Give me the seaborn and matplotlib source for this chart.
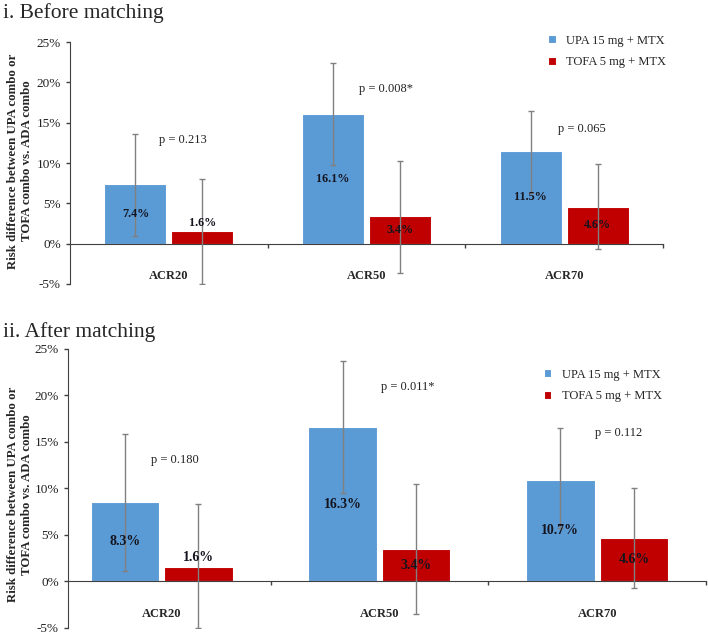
import numpy as np
import pandas as pd
import matplotlib.pyplot as plt
import seaborn as sns
from matplotlib.ticker import FuncFormatter

metrics = ["ACR20", "ACR50", "ACR70"]
groups = ["UPA 15 mg + MTX", "TOFA 5 mg + MTX"]
colors = {"UPA 15 mg + MTX": "#5B9BD5", "TOFA 5 mg + MTX": "#C00000"}

# i. before matching (risk difference, %)
before_upa = [7.4, 16.1, 11.5]
before_tofa = [1.6, 3.4, 4.6]
before_upa_ci = [(1.0, 13.6), (9.8, 22.4), (6.3, 16.5)]
before_tofa_ci = [(-5.0, 8.0), (-3.6, 10.3), (-0.7, 9.9)]
before_p = ["p = 0.213", "p = 0.008*", "p = 0.065"]

# ii. after matching (bar heights as drawn, labels as printed)
after_upa = [8.5, 16.6, 10.9]
after_tofa = [1.6, 3.5, 4.7]
after_upa_lab = ["8.3%", "16.3%", "10.7%"]
after_tofa_lab = ["1.6%", "3.4%", "4.6%"]
after_upa_ci = [(1.1, 15.9), (9.5, 23.7), (5.7, 16.5)]
after_tofa_ci = [(-5.0, 8.3), (-3.5, 10.5), (-0.7, 10.1)]
after_p = ["p = 0.180", "p = 0.011*", "p = 0.112"]

ylabel = "Risk difference between UPA combo or\nTOFA combo vs. ADA combo"

sns.set_style("white")
plt.rcParams["font.family"] = ["Liberation Serif", "DejaVu Serif"]
dark = "#404040"


def panel(ax, upa, tofa, upa_lab, tofa_lab, upa_ci, tofa_ci, pvals, p_pos, lab_size):
    df = pd.DataFrame({
        "metric": metrics * 2,
        "group": [groups[0]] * 3 + [groups[1]] * 3,
        "value": upa + tofa,
    })
    sns.barplot(data=df, x="metric", y="value", hue="group", hue_order=groups,
                palette=colors, saturation=1, width=0.675, gap=0.07,
                edgecolor="white", linewidth=0.8, errorbar=None, ax=ax)

    for cont, ci, labs in zip(ax.containers, [upa_ci, tofa_ci], [upa_lab, tofa_lab]):
        for bar, (lo, hi), lab in zip(cont, ci, labs):
            xc = bar.get_x() + bar.get_width() / 2
            h = bar.get_height()
            ax.errorbar(xc, h, yerr=[[h - lo], [hi - h]], fmt="none",
                        ecolor="#808080", elinewidth=1, capsize=2, capthick=1, zorder=3)
            ty = h / 2 if h > 3 else h + 1.0
            ax.text(xc, ty, lab, ha="center", va="center", fontweight="bold",
                    fontsize=lab_size, color="#14141f", zorder=4)

    for i, (p, (dx, py)) in enumerate(zip(pvals, p_pos)):
        ax.text(i + dx, py, p, ha="center", va="center", fontsize=9, color="#222222")

    sns.despine(ax=ax)
    ax.spines["bottom"].set_position(("data", 0))
    ax.spines["bottom"].set_color(dark)
    ax.spines["left"].set_color(dark)
    ax.spines["left"].set_bounds(-5, 25)

    ax.set_yticks(range(-5, 30, 5))
    ax.yaxis.set_major_formatter(FuncFormatter(lambda v, _: f"{v:.0f}%"))
    ax.tick_params(axis="y", length=3, width=1, color=dark, pad=3.5,
                   labelsize=9.5, labelcolor="#222222", left=True)

    ax.set_xticks([0, 1, 2])
    ax.set_xticklabels(metrics, fontweight="bold", fontsize=9)
    ax.set_xticks([0.5, 1.5, 2.5], minor=True)
    ax.tick_params(axis="x", which="major", length=0, pad=19, bottom=True)
    ax.tick_params(axis="x", which="minor", length=3, width=1, color=dark,
                   direction="out", bottom=True)

    ax.set_xlabel("")
    ax.set_ylabel(ylabel, fontweight="bold", fontsize=9.3, linespacing=1.2)


fig = plt.figure(figsize=(7.08, 6.36), dpi=100)

ax1 = fig.add_axes([70 / 708, 1 - 284 / 636, 593 / 708, 258 / 636])
panel(ax1, before_upa, before_tofa,
      [f"{v}%" for v in before_upa], [f"{v}%" for v in before_tofa],
      before_upa_ci, before_tofa_ci, before_p,
      [(0.07, 12.9), (0.10, 19.2), (0.09, 14.2)], 8.7)
ax1.set_xlim(-0.5, 2.5)
ax1.set_ylim(-5, 27)
ax1.yaxis.set_label_coords(-0.062, 0.477)
sns.move_legend(ax1, "upper left", bbox_to_anchor=(0.796, 0.99), frameon=False,
                title=None, fontsize=9, handlelength=0.6, handleheight=0.6,
                handletextpad=0.85, labelspacing=0.75, borderpad=0)

ax2 = fig.add_axes([68 / 708, 8 / 636, 638 / 708, 281 / 636])
panel(ax2, after_upa, after_tofa, after_upa_lab, after_tofa_lab,
      after_upa_ci, after_tofa_ci, after_p,
      [(0.06, 13.1), (0.13, 20.9), (0.10, 15.95)], 10)
ax2.set_xlim(-0.43, 2.5)
ax2.set_ylim(-5, 25.2)
ax2.yaxis.set_label_coords(-0.055, 0.474)
sns.move_legend(ax2, "upper left", bbox_to_anchor=(0.736, 0.945), frameon=False,
                title=None, fontsize=9, handlelength=0.6, handleheight=0.6,
                handletextpad=0.85, labelspacing=0.75, borderpad=0)

fig.text(0.004, 1 - 18 / 636, "i. Before matching", fontsize=15.5, va="baseline")
fig.text(0.004, 1 - 337 / 636, "ii. After matching", fontsize=15.5, va="baseline")

fig.savefig("out.png", dpi=100)
